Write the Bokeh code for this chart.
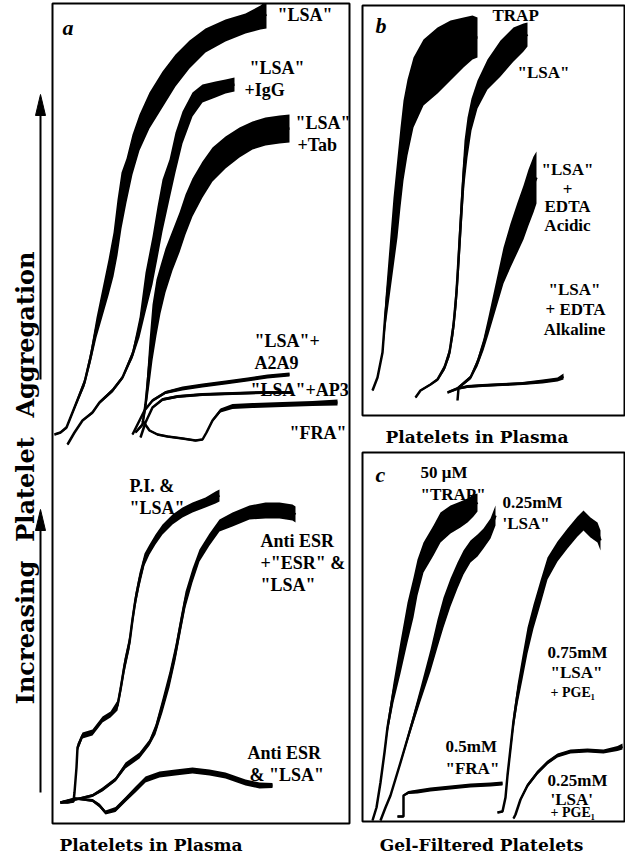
from bokeh.plotting import figure
from bokeh.models import Range1d, Label
from bokeh.layouts import row, column
from bokeh.embed import file_html
from bokeh.resources import INLINE

# ---------------- data: aggregation traces (time, aggregation, noise amplitude) -------------
# Panel a, upper group (platelets in plasma)
a_lsa_t = [2, 8, 14, 20, 26, 32, 38, 44, 50, 56, 61, 65, 69, 74, 80, 87, 97, 110, 123, 137, 153, 173, 193, 208, 214]
a_lsa_y = [389, 391, 396, 411, 426, 441, 466, 496, 521, 546, 569, 596, 623, 643, 669, 691, 713, 734, 753, 769, 783, 793, 800, 806, 809]
a_lsa_n = [1, 1, 1.5, 2, 3, 4, 6, 10, 14, 18, 22, 28, 28, 22, 20, 18, 18, 18, 16, 14, 12, 11, 10, 12, 14]

a_igg_t = [15, 22, 30, 40, 47, 60, 70, 80, 87, 93, 100, 105, 110, 117, 123, 130, 140, 150, 163, 173, 182]
a_igg_y = [379, 391, 403, 411, 421, 433, 446, 469, 496, 531, 563, 591, 618, 644, 671, 696, 719, 730, 734, 737, 739]
a_igg_n = [1, 1, 1, 1.5, 1.5, 2, 2, 4, 10, 20, 24, 26, 26, 20, 20, 16, 12, 9, 8, 7, 7]

a_tab_t = [83, 90, 93, 95, 97, 100, 104, 108, 113, 120, 127, 133, 140, 150, 160, 173, 187, 200, 213, 227, 237]
a_tab_y = [391, 399, 419, 439, 461, 491, 516, 534, 553, 573, 591, 609, 626, 644, 659, 671, 681, 688, 692, 694, 695]
a_tab_n = [1, 2, 8, 15, 22, 28, 28, 24, 22, 20, 20, 20, 19, 18, 17, 16, 15, 14, 14, 14, 14]

a_a2a9_t = [80, 85, 92, 100, 113, 130, 150, 173, 195, 215, 237]
a_a2a9_y = [389, 399, 413, 423, 431, 435, 438, 441, 444, 447, 449]
a_a2a9_n = [1, 1, 1, 1.5, 1.5, 2, 2, 2, 2, 2, 2]

a_ap3_t = [88, 93, 100, 110, 125, 150, 180, 210, 240]
a_ap3_y = [386, 401, 416, 424, 427, 429, 430, 431, 431]
a_ap3_n = [1, 1, 1, 1.5, 1.5, 1.5, 1.5, 1.5, 1.5]

a_fra_t = [90, 97, 105, 115, 130, 143, 150, 154, 160, 168, 180, 200, 230, 260, 285]
a_fra_y = [403, 393, 389, 387, 385, 383, 384, 391, 403, 413, 417, 418, 419, 420, 421]
a_fra_n = [1, 1, 1, 1, 1, 1, 1, 1, 1.5, 2, 2.5, 2.5, 2.5, 2.5, 3]

# Panel a, lower group
a_pi_t = [8, 15, 21, 22, 24, 25, 30, 40, 50, 58, 65, 68, 72, 77, 80, 83, 87, 92, 97, 103, 110, 120, 130, 140, 153, 163, 167]
a_pi_y = [21, 21, 22, 31, 56, 76, 88, 91, 104, 109, 118, 134, 158, 181, 204, 224, 244, 264, 274, 284, 294, 304, 311, 316, 321, 326, 328]
a_pi_n = [1, 1, 1, 2, 4, 4, 3, 3, 3, 3, 5, 6, 7, 7, 7, 7, 7, 6, 5, 5, 5, 5, 5, 5, 5, 6, 6]

a_esr_t = [8, 23, 40, 50, 63, 73, 87, 97, 103, 110, 117, 123, 128, 133, 140, 147, 157, 167, 180, 197, 213, 227, 240, 243]
a_esr_y = [21, 24, 28, 34, 44, 58, 68, 81, 94, 118, 144, 171, 198, 224, 248, 268, 284, 298, 304, 311, 313, 313, 311, 309]
a_esr_n = [1, 1, 1.5, 2, 2, 3, 3, 3, 5, 7, 8, 8, 8, 8, 7, 6, 6, 6, 7, 7, 8, 8, 8, 8]

a_anti_t = [8, 23, 40, 47, 53, 63, 73, 83, 93, 107, 123, 140, 157, 173, 193, 207, 220]
a_anti_y = [21, 25, 23, 18, 11, 14, 24, 34, 44, 49, 51, 53, 51, 48, 41, 38, 38]
a_anti_n = [1, 1, 1.5, 2, 2, 2.5, 2.5, 3, 3, 3, 3, 3, 3, 3, 3, 3, 2.5]

# Panel b
b_trap_t = [10, 15, 20, 23, 27, 31, 35, 38, 41, 45, 51, 61, 75, 88, 101, 110, 115]
b_trap_y = [25, 38, 63, 103, 143, 183, 218, 248, 275, 298, 323, 343, 355, 365, 373, 378, 378]
b_trap_n = [1, 1, 3, 15, 25, 35, 40, 40, 40, 38, 35, 33, 33, 30, 25, 22, 20]

b_lsa_t = [53, 58, 68, 75, 82, 87, 91, 94, 96, 98, 100, 102, 105, 109, 115, 125, 138, 151, 161, 165]
b_lsa_y = [18, 25, 31, 36, 48, 63, 90, 123, 156, 190, 223, 253, 278, 301, 321, 341, 357, 371, 378, 381]
b_lsa_n = [1, 1, 1, 1.5, 3, 5, 10, 15, 20, 22, 22, 22, 20, 16, 14, 15, 18, 17, 14, 12]

b_acid_t = [85, 95, 108, 115, 121, 126, 131, 136, 141, 148, 155, 161, 166, 171, 174]
b_acid_y = [23, 27, 38, 53, 71, 90, 110, 130, 150, 170, 188, 203, 218, 231, 238]
b_acid_n = [1, 1.5, 2, 4, 6, 9, 12, 15, 18, 22, 25, 27, 28, 28, 26]

b_alk_t = [95, 96, 105, 120, 140, 160, 180, 195, 201]
b_alk_y = [15, 27, 29, 30, 31, 32, 34, 36, 39]
b_alk_n = [1, 1, 1.5, 1.5, 1.5, 1.5, 2, 2, 3]

# Panel c (gel-filtered platelets)
c_trap_t = [10, 14, 18, 22, 25, 31, 38, 45, 51, 55, 61, 71, 78, 88, 98, 105, 111, 115]
c_trap_y = [1, 14, 39, 69, 94, 129, 164, 199, 224, 244, 264, 281, 294, 302, 307, 311, 316, 319]
c_trap_n = [1, 1, 2, 4, 6, 10, 16, 20, 20, 18, 15, 15, 15, 14, 13, 12, 11, 9]

c_lsa_t = [18, 23, 28, 38, 48, 58, 68, 75, 81, 88, 95, 101, 108, 115, 121, 128, 133]
c_lsa_y = [1, 14, 26, 59, 93, 127, 161, 188, 209, 229, 246, 259, 270, 276, 283, 293, 306]
c_lsa_n = [1, 1, 1, 2, 4, 7, 11, 14, 15, 14, 13, 12, 11, 11, 10, 10, 10]

c_fra_t = [35, 41, 41, 46, 55, 68, 88, 108, 128, 140]
c_fra_y = [5, 5, 26, 29, 30, 32, 34, 36, 37, 38]
c_fra_n = [1, 1, 1, 1.5, 2, 2, 2, 2, 2, 2]

c_lsa75_t = [135, 140, 143, 145, 148, 151, 155, 160, 165, 171, 178, 185, 195, 205, 215, 221, 228, 235, 238]
c_lsa75_y = [9, 10, 24, 46, 73, 100, 127, 154, 181, 205, 229, 253, 270, 283, 295, 301, 294, 289, 281]
c_lsa75_n = [1, 1, 2, 4, 6, 8, 10, 12, 13, 12, 12, 11, 10, 10, 10, 10, 10, 10, 10]

c_lsa25_t = [151, 153, 158, 165, 175, 185, 195, 208, 225, 241, 255, 260]
c_lsa25_y = [3, 7, 22, 36, 49, 59, 66, 70, 71, 70, 73, 75]
c_lsa25_n = [1, 1, 1.5, 2, 2, 2, 2, 2, 2, 2, 2.5, 3]

# ---------------- styling / layout ----------------
SERIF = "Liberation Serif"
WIDE = "DejaVu Serif"
INK = "black"


def panel(w, h, xr, yr, left, right, top, bottom):
    p = figure(width=w, height=h, x_range=Range1d(*xr), y_range=Range1d(*yr),
               output_backend="svg", toolbar_location=None, title=None,
               x_axis_location=None, y_axis_location=None,
               min_border_left=left, min_border_right=right,
               min_border_top=top, min_border_bottom=bottom,
               outline_line_color=INK, outline_line_width=2,
               background_fill_color="white", border_fill_color="white")
    p.grid.visible = False
    return p


def strip(w, h, xr, yr):
    p = figure(width=w, height=h, x_range=Range1d(*xr), y_range=Range1d(*yr),
               output_backend="svg", toolbar_location=None, title=None,
               x_axis_location=None, y_axis_location=None,
               min_border=0, outline_line_color=None,
               background_fill_color="white", border_fill_color="white")
    p.grid.visible = False
    return p


def trace(p, t, y, n):
    lo = [a - b for a, b in zip(y, n)]
    hi = [a + b for a, b in zip(y, n)]
    p.varea(x=t, y1=lo, y2=hi, fill_color=INK)
    p.line(x=t, y=y, line_color=INK, line_width=2.5)


def put(p, x0, y0, px, py, text, size="18px", align="left", style="bold", font=SERIF,
        baseline="middle"):
    p.add_layout(Label(x=px - x0, y=y0 - py, text=text, text_font=font,
                       text_font_size=size, text_font_style=style, text_align=align,
                       text_baseline=baseline, text_color=INK))


# panel a : frame 297 x 820
pa = panel(301, 825, (0, 297), (0, 820), 2, 2, 3, 2)
for t, y, n in [(a_lsa_t, a_lsa_y, a_lsa_n), (a_igg_t, a_igg_y, a_igg_n),
                (a_tab_t, a_tab_y, a_tab_n), (a_a2a9_t, a_a2a9_y, a_a2a9_n),
                (a_ap3_t, a_ap3_y, a_ap3_n), (a_fra_t, a_fra_y, a_fra_n),
                (a_pi_t, a_pi_y, a_pi_n), (a_esr_t, a_esr_y, a_esr_n),
                (a_anti_t, a_anti_y, a_anti_n)]:
    trace(pa, t, y, n)
AX, AY = 60, 831
put(pa, AX, AY, 70, 35, "a", size="22px", style="bold italic")
for txt, px, py in [('"LSA"', 285, 22), ('"LSA"', 257, 75), ('+IgG', 252, 97),
                    ('"LSA"', 303, 130), ('+Tab', 305, 152),
                    ('"LSA"+', 262, 348), ('A2A9', 262, 370), ('"LSA"+AP3', 258, 397),
                    ('"FRA"', 297, 440), ('P.I. &', 137, 493), ('"LSA"', 137, 515),
                    ('Anti ESR', 268, 548), ('+"ESR" &', 268, 570), ('"LSA"', 268, 592),
                    ('Anti ESR', 255, 760), ('& "LSA"', 257, 782)]:
    put(pa, AX, AY, px, py, txt)

# panel b : frame 262 x 410
pb = panel(274, 417, (0, 262), (0, 410), 11, 1, 5, 2)
for t, y, n in [(b_trap_t, b_trap_y, b_trap_n), (b_lsa_t, b_lsa_y, b_lsa_n),
                (b_acid_t, b_acid_y, b_acid_n), (b_alk_t, b_alk_y, b_alk_n)]:
    trace(pb, t, y, n)
BX, BY = 370, 423
put(pb, BX, BY, 383, 33, "b", size="22px", style="bold italic")
put(pb, BX, BY, 500, 23, "TRAP", size="17px")
put(pb, BX, BY, 525, 80, '"LSA"', size="17px")
for txt, px, py in [('"LSA"', 575, 177), ('+', 575, 197), ('EDTA', 575, 214), ('Acidic', 575, 233),
                    ('"LSA"', 582, 297), ('+ EDTA', 583, 317), ('Alkaline', 582, 337)]:
    put(pb, BX, BY, px, py, txt, size="17px", align="center")

# panel c : frame 262 x 369
pc = panel(274, 374, (0, 262), (0, 369), 11, 1, 3, 2)
for t, y, n in [(c_trap_t, c_trap_y, c_trap_n), (c_lsa_t, c_lsa_y, c_lsa_n),
                (c_fra_t, c_fra_y, c_fra_n), (c_lsa75_t, c_lsa75_y, c_lsa75_n),
                (c_lsa25_t, c_lsa25_y, c_lsa25_n)]:
    trace(pc, t, y, n)
CX, CY = 370, 829
put(pc, CX, CY, 383, 482, "c", size="22px", style="bold italic")
for txt, px, py, sz in [("50  \u03bcM", 428, 480, "17px"), ('"TRAP"', 428, 502, "17px"),
                        ("0.25mM", 510, 510, "17px"), ("'LSA\"", 510, 531, "17px"),
                        ("0.75mM", 555, 660, "17px"), ('"LSA"', 558, 680, "17px"),
                        ("+ PGE\u2081", 558, 700, "14px"),
                        ("0.5mM", 453, 754, "17px"), ('"FRA"', 453, 776, "17px"),
                        ("0.25mM", 555, 788, "17px"), ("'LSA'", 558, 807, "17px"),
                        ("+ PGE\u2081", 558, 820, "14px")]:
    put(pc, CX, CY, px, py, txt, size=sz)

# captions
cap_a = strip(301, 28, (58, 359), (861, 833))
put(cap_a, 0, 0, 65, -852, "Platelets in Plasma", size="17px", font=WIDE)
cap_b = strip(274, 32, (359, 633), (457, 425))
put(cap_b, 0, 0, 383, -444, "Platelets in Plasma", size="17px", font=WIDE)
cap_c = strip(274, 30, (359, 633), (861, 831))
put(cap_c, 0, 0, 377, -852, "Gel-Filtered Platelets", size="17px", font=WIDE)

# left strip: vertical axis title with arrows
left = strip(50, 853, (8, 58), (861, 8))
for word, cy in [("Aggregation", 342), ("Platelet", 497), ("Increasing", 640)]:
    left.add_layout(Label(x=33, y=cy, text=word, angle=1.5708, text_font=WIDE,
                          text_font_size="24px", text_font_style="bold",
                          text_align="center", text_baseline="alphabetic", text_color=INK))
for tail, tip in [(387, 102), (800, 517)]:
    left.line(x=[48, 48], y=[tail, tip + 18], line_color=INK, line_width=2)
    left.patch(x=[48, 43, 53], y=[tip, tip + 21, tip + 21], fill_color=INK, line_color=INK)

root = row(left, column(pa, cap_a), column(pb, cap_b, pc, cap_c),
           styles={"margin-bottom": "-8px"})

open("out.html", "w").write(file_html(root, INLINE))
